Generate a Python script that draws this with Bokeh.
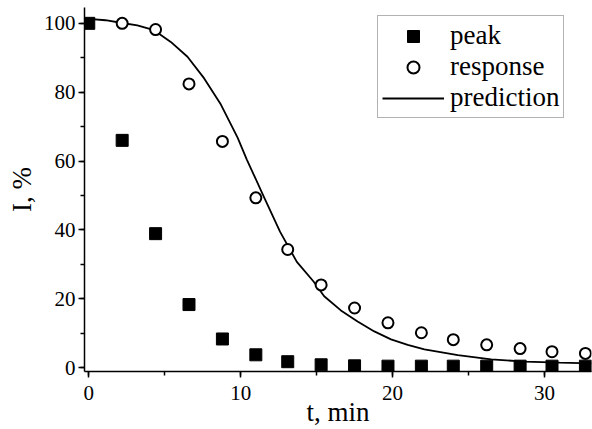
from bokeh.plotting import figure
from bokeh.models import SingleIntervalTicker, Range1d, Legend, LegendItem
from bokeh.embed import file_html
from bokeh.resources import INLINE

# data
t_peak = [0, 2.2, 4.4, 6.6, 8.8, 11.0, 13.1, 15.3, 17.5, 19.7, 21.9, 24.0, 26.2, 28.4, 30.5, 32.7]
peak = [100, 66.0, 38.9, 18.3, 8.3, 3.7, 1.7, 0.8, 0.5, 0.4, 0.4, 0.4, 0.4, 0.4, 0.4, 0.4]

t_resp = [2.2, 4.4, 6.6, 8.8, 11.0, 13.1, 15.3, 17.5, 19.7, 21.9, 24.0, 26.2, 28.4, 30.5, 32.7]
response = [100, 98.2, 82.4, 65.7, 49.3, 34.3, 24.0, 17.3, 13.0, 10.1, 8.1, 6.6, 5.5, 4.6, 4.1]

t_pred = [0, 1.1, 2.2, 3.2, 4.3, 5.4, 6.5, 7.6, 8.7, 9.8, 10.4, 11.5, 12.6, 13.7, 14.8, 15.5,
          16.6, 17.7, 18.8, 19.9, 21.0, 22.1, 24.3, 26.5, 28.7, 31.0, 33.1]
prediction = [101.3, 100.9, 100.1, 99.4, 98.0, 94.6, 90.3, 84.0, 76.4, 66.8, 60.5, 49.9, 39.4,
              30.7, 25.0, 20.7, 16.6, 13.4, 10.5, 8.2, 6.6, 5.3, 3.6, 2.4, 1.7, 1.4, 1.2]

x_label = "t, min"
y_label = "I, %"

FONT = "Liberation Serif"

p = figure(width=592, height=429, output_backend="svg", toolbar_location=None,
           x_range=Range1d(-0.28, 33.1), y_range=Range1d(-1.15, 104.6),
           min_border_left=84, min_border_right=1, min_border_top=7, min_border_bottom=58)
p.background_fill_color = "white"
p.border_fill_color = "white"
p.outline_line_color = None
p.xgrid.visible = False
p.ygrid.visible = False

r_pred = p.line(t_pred, prediction, line_color="black", line_width=1.8)
r_peak = p.scatter(t_peak, peak, marker="square", size=12, fill_color="black", line_color="black")
r_resp = p.scatter(t_resp, response, marker="circle", size=11, fill_color="white",
                   line_color="black", line_width=2)

p.xaxis.ticker = SingleIntervalTicker(interval=10, num_minor_ticks=2)
p.yaxis.ticker = SingleIntervalTicker(interval=20, num_minor_ticks=2)

for ax in (p.xaxis[0], p.yaxis[0]):
    ax.axis_line_color = "black"
    ax.axis_line_width = 1.5
    ax.major_tick_line_color = "black"
    ax.major_tick_line_width = 1.5
    ax.minor_tick_line_color = "black"
    ax.minor_tick_line_width = 1.5
    ax.major_tick_out = 6
    ax.major_tick_in = 0
    ax.minor_tick_out = 4
    ax.minor_tick_in = 0
    ax.major_label_text_font = FONT
    ax.major_label_text_font_size = "21px"
    ax.major_label_text_color = "black"
    ax.axis_label_text_font = FONT
    ax.axis_label_text_font_size = "27px"
    ax.axis_label_text_font_style = "normal"
    ax.axis_label_text_color = "black"

p.xaxis.axis_label = x_label
p.yaxis.axis_label = y_label
p.xaxis.major_label_standoff = 8
p.xaxis.axis_label_standoff = -6
p.yaxis.major_label_standoff = 3
p.yaxis.axis_label_standoff = 4

legend = Legend(items=[
    LegendItem(label="peak", renderers=[r_peak]),
    LegendItem(label="response", renderers=[r_resp]),
    LegendItem(label="prediction", renderers=[r_pred]),
], location=(293, 253))
legend.label_text_font = FONT
legend.label_text_font_size = "27px"
legend.label_text_color = "black"
legend.glyph_width = 62
legend.glyph_height = 30
legend.label_height = 30
legend.label_standoff = 6
legend.padding = 4
legend.spacing = 0
legend.margin = 0
legend.border_line_color = "#666666"
legend.border_line_width = 1
legend.background_fill_color = "white"
legend.background_fill_alpha = 1
p.add_layout(legend, "center")

open("out.html", "w").write(file_html(p, INLINE))
